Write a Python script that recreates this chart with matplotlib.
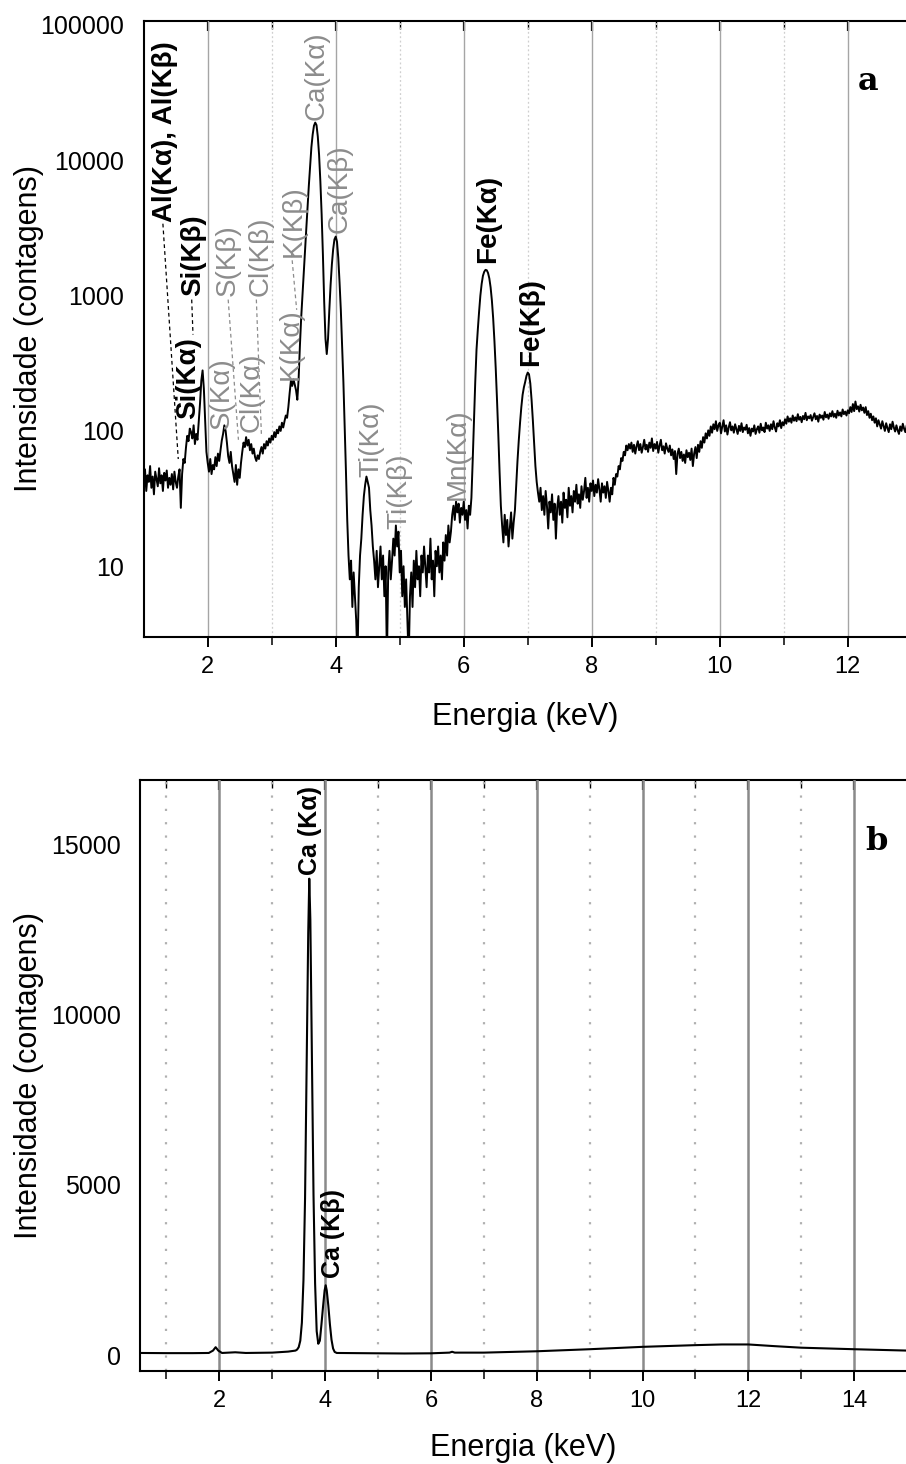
import numpy as np
import matplotlib
matplotlib.use('Agg')
import matplotlib.pyplot as plt
from matplotlib.ticker import FixedLocator, NullLocator, NullFormatter

plt.rcParams['font.family'] = ['Liberation Sans', 'DejaVu Sans']

# ---- espectro a (escala log), canais de 0.02 keV a partir de 1.0 keV ----
E0_A = 1.0
DE_A = 0.02
counts_a = [
    40, 52, 36, 47, 42, 55, 38, 46, 34, 50,             # 1.0
    44, 39, 53, 41, 47, 36, 49, 43, 51, 38,             # 1.2
    45, 40, 48, 37, 50, 42, 38, 46, 52, 27,             # 1.4
    48, 62, 58, 75, 92, 84, 104, 98, 88, 110,           # 1.6
    80, 95, 86, 118, 160, 235, 280, 205, 120, 70,       # 1.8
    58, 50, 62, 48, 56, 52, 64, 55, 68, 60,             # 2.0
    72, 85, 95, 110, 100, 82, 65, 58, 70, 55,           # 2.2
    48, 42, 56, 40, 52, 45, 58, 70, 82, 76,             # 2.4
    90, 78, 86, 72, 80, 68, 74, 64, 60, 66,             # 2.6
    62, 70, 76, 68, 80, 74, 84, 78, 88, 82,             # 2.8
    92, 86, 98, 90, 102, 96, 108, 100, 115, 106,        # 3.0
    118, 130, 125, 150, 190, 235, 215, 240, 220, 200,   # 3.2
    170, 240, 420, 680, 1000, 1500, 2200, 3100, 4500, 6500,          # 3.4
    9000, 12500, 15500, 18000, 19000, 18200, 15000, 11000, 7000, 4000,  # 3.6
    2000, 900, 480, 370, 480, 780, 1200, 1700, 2200, 2600,           # 3.8
    2730, 2500, 1900, 1250, 780, 420, 230, 110, 50, 22,              # 4.0
    12, 8, 11, 5, 9, 6, 4, 2, 7, 12,                    # 4.2
    16, 24, 33, 40, 46, 42, 38, 26, 20, 14,             # 4.4
    11, 8, 13, 7, 10, 14, 8, 12, 6, 10,                 # 4.6
    2, 9, 13, 8, 11, 16, 12, 20, 14, 18,                # 4.8
    9, 13, 6, 10, 5, 8, 4, 2, 6, 9,                     # 5.0
    5, 11, 7, 13, 8, 10, 6, 12, 9, 14,                  # 5.2
    10, 7, 12, 9, 16, 8, 11, 6, 13, 10,                 # 5.4
    14, 9, 12, 8, 15, 11, 17, 12, 20, 15,               # 5.6
    18, 24, 28, 22, 30, 25, 29, 21, 27, 24,             # 5.8
    30, 22, 26, 19, 28, 24, 32, 60, 120, 230,           # 6.0
    400, 560, 760, 1000, 1220, 1400, 1500, 1550, 1540, 1470,  # 6.2
    1340, 1150, 920, 680, 460, 290, 170, 95, 50, 28,    # 6.4
    20, 15, 24, 17, 22, 14, 19, 25, 16, 21,             # 6.6
    26, 40, 60, 85, 115, 150, 185, 210, 230, 255,       # 6.8
    270, 262, 225, 170, 120, 80, 55, 42, 35, 30,        # 7.0
    38, 26, 33, 24, 36, 28, 19, 30, 25, 34,             # 7.2
    22, 29, 16, 27, 33, 24, 30, 21, 35, 27,             # 7.4
    31, 23, 38, 28, 33, 25, 36, 30, 40, 29,             # 7.6
    34, 27, 39, 31, 36, 45, 32, 38, 30, 41,             # 7.8
    36, 43, 33, 40, 35, 44, 37, 30, 41, 35,             # 8.0
    39, 32, 42, 36, 30, 38, 34, 45, 40, 48,             # 8.2
    46, 55, 52, 63, 60, 70, 66, 78, 72, 80,             # 8.4
    74, 82, 70, 79, 68, 77, 84, 72, 80, 69,             # 8.6
    76, 86, 73, 79, 70, 82, 75, 88, 71, 80,             # 8.8
    74, 83, 69, 78, 86, 72, 77, 68, 81, 74,             # 9.0
    70, 78, 66, 73, 62, 71, 48, 68, 74, 63,             # 9.2
    70, 60, 67, 58, 72, 64, 69, 61, 74, 55,             # 9.4
    68, 76, 63, 79, 70, 84, 75, 90, 82, 96,             # 9.6
    88, 101, 92, 108, 97, 112, 103, 118, 100, 110,      # 9.8
    115, 96, 108, 120, 99, 110, 94, 106, 116, 101,      # 10.0
    108, 97, 112, 103, 95, 109, 100, 114, 98, 106,      # 10.2
    102, 111, 96, 105, 92, 104, 99, 110, 95, 103,       # 10.4
    108, 97, 113, 101, 106, 98, 115, 104, 110, 100,     # 10.6
    112, 103, 118, 106, 99, 114, 108, 120, 105, 116,    # 10.8
    110, 122, 113, 128, 117, 124, 115, 130, 119, 126,   # 11.0
    118, 133, 121, 127, 116, 129, 122, 136, 120, 128,   # 11.2
    124, 131, 119, 127, 135, 122, 129, 117, 132, 125,   # 11.4
    130, 121, 138, 126, 132, 123, 135, 128, 140, 127,   # 11.6
    134, 125, 141, 130, 137, 128, 144, 133, 139, 130,   # 11.8
    142, 135, 150, 138, 158, 140, 165, 145, 152, 139,   # 12.0
    156, 142, 149, 136, 150, 131, 140, 125, 134, 120,   # 12.2
    128, 115, 124, 108, 120, 112, 104, 118, 109, 100,   # 12.4
    114, 105, 98, 112, 103, 117, 106, 99, 110, 101,     # 12.6
    95, 108, 100, 113, 104, 98, 109,                    # 12.8
]
energy_a = E0_A + DE_A * np.arange(len(counts_a))

# ---- espectro b (escala linear) ----
energy_b = [0.5, 1.0, 1.5, 1.8, 1.88, 1.93, 1.98, 2.05, 2.3, 2.5, 3.0, 3.3, 3.44,
            3.47, 3.50, 3.53, 3.56, 3.59, 3.62, 3.65, 3.68, 3.70, 3.72, 3.75,
            3.78, 3.81, 3.84, 3.87, 3.90, 3.93, 3.96, 3.99, 4.01, 4.03, 4.06,
            4.09, 4.12, 4.15, 4.18, 4.22, 4.6, 5.0, 5.5, 6.0, 6.35, 6.4, 6.45,
            7.0, 8.0, 9.0, 10.0, 11.0, 11.5, 12.0, 12.5, 13.0, 14.0, 15.0]
counts_b = [60, 55, 55, 60, 130, 230, 130, 60, 80, 60, 70, 100, 130,
            160, 230, 420, 950, 2200, 4600, 8500, 12400, 14000, 12800, 8700,
            4700, 2100, 700, 330, 420, 900, 1420, 1900, 2050, 1900, 1450,
            900, 450, 190, 90, 60, 55, 50, 45, 50, 70, 95, 70,
            70, 110, 170, 240, 290, 310, 310, 260, 215, 170, 130]

# ---- rotulos dos picos ----
GRAY = '#8c8c8c'
lab_a_text = ['Al(Kα), Al(Kβ)', 'Si(Kβ)', 'Si(Kα)', 'S(Kβ)', 'S(Kα)', 'Cl(Kβ)',
              'Cl(Kα)', 'K(Kβ)', 'K(Kα)', 'Ca(Kα)', 'Ca(Kβ)', 'Ti(Kα)',
              'Ti(Kβ)', 'Mn(Kα)', 'Fe(Kα)', 'Fe(Kβ)']
lab_a_x = [1.33, 1.77, 1.70, 2.32, 2.22, 2.82, 2.69, 3.34, 3.29, 3.70, 4.06,
           4.55, 5.00, 5.90, 6.38, 7.06]
lab_a_y = [3500, 985, 122, 985, 103, 985, 99, 1940, 239, 19900, 2920,
           46, 19, 31, 1750, 300]
lab_a_bold = [True, True, True, False, False, False, False, False, False,
              False, False, False, False, False, True, True]

# linhas tracejadas de ligacao
lead_x0 = [1.30, 1.75, 2.32, 2.76, 3.31]
lead_y0 = [3400, 935, 935, 935, 2050]
lead_x1 = [1.54, 1.77, 2.48, 2.84, 3.39]
lead_y1 = [62, 515, 86, 91, 785]
lead_bold = [True, True, False, False, False]

lab_b_text = ['Ca (Kα)', 'Ca (Kβ)']
lab_b_x = [3.71, 4.15]
lab_b_y = [14100, 2270]

yticks_a = [10, 100, 1000, 10000, 100000]
yticks_b = [0, 5000, 10000, 15000]

W, H = 906, 1464
fig = plt.figure(figsize=(W / 100, H / 100), dpi=100)
ax1 = fig.add_axes([143.7 / W, (H - 637) / H, (W - 143.7) / W, 616 / H])
ax2 = fig.add_axes([140 / W, (H - 1371) / H, (W - 140) / W, 591 / H])


def style_axes(ax, xmin, xmax, major, minor, grid_major, grid_minor):
    ax.set_xlim(xmin, xmax)
    ax.set_xticks(major)
    ax.set_xticks(minor, minor=True)
    ax.tick_params(axis='x', which='major', direction='out', length=7,
                   width=1.4, labelsize=17, pad=7)
    ax.tick_params(axis='x', which='minor', direction='out', length=6, width=1.1)
    ax.tick_params(axis='y', length=0, labelsize=18, pad=14)
    ax.grid(True, which='major', axis='x', **grid_major)
    ax.grid(True, which='minor', axis='x', **grid_minor)
    ax.set_axisbelow(True)
    for s in ['left', 'bottom']:
        ax.spines[s].set_linewidth(1.5)
    ax.spines['right'].set_visible(False)
    ax.spines['top'].set_visible(False)
    top = ax.secondary_xaxis('top')
    top.set_xticks(major)
    top.set_xticks(minor, minor=True)
    top.xaxis.set_major_formatter(NullFormatter())
    top.tick_params(which='major', direction='in', length=7, width=1.6)
    top.tick_params(which='minor', direction='in', length=6, width=1.0)
    top.spines['top'].set_linewidth(1.5)
    ax.set_xlabel('Energia (keV)', fontsize=22)
    ax.set_ylabel('Intensidade (contagens)', fontsize=22)


# ---- painel a ----
ax1.plot(energy_a, counts_a, color='black', lw=1.4)
ax1.set_yscale('log')
ax1.set_ylim(3.0, 1.07e5)
ax1.yaxis.set_major_locator(FixedLocator(yticks_a))
ax1.yaxis.set_minor_locator(NullLocator())
ax1.set_yticklabels([str(v) for v in yticks_a])
style_axes(ax1, 1.0, 12.91, [2, 4, 6, 8, 10, 12], [3, 5, 7, 9, 11],
           dict(color='#a5a5a5', lw=1.0, ls='-'),
           dict(color='#cfcfcf', lw=0.9, ls=(0, (1.5, 2))))
ax1.yaxis.set_label_coords(-0.131, 0.5)
ax1.xaxis.set_label_coords(0.5, -0.105)

for t, x, y, b in zip(lab_a_text, lab_a_x, lab_a_y, lab_a_bold):
    ax1.text(x, y, t, rotation=90, ha='center', va='bottom', fontsize=20,
             color='black' if b else GRAY, fontweight='bold' if b else 'normal')
for x0, y0, x1, y1, b in zip(lead_x0, lead_y0, lead_x1, lead_y1, lead_bold):
    ax1.plot([x0, x1], [y0, y1], color='black' if b else GRAY, lw=0.9,
             ls=(0, (3, 2.5)))

fig.text(868 / W, 1 - 81 / H, 'a', fontsize=23, fontweight='bold',
         family='DejaVu Serif', ha='center', va='center')

# ---- painel b ----
ax2.plot(energy_b, counts_b, color='black', lw=1.5)
ax2.set_ylim(-470, 16900)
ax2.yaxis.set_major_locator(FixedLocator(yticks_b))
ax2.set_yticklabels([str(v) for v in yticks_b])
style_axes(ax2, 0.5, 14.98, [2, 4, 6, 8, 10, 12, 14], [1, 3, 5, 7, 9, 11, 13],
           dict(color='#8a8a8a', lw=1.8, ls='-'),
           dict(color='#b0b0b0', lw=1.6, ls=(0, (1, 5))))
ax2.yaxis.set_label_coords(-0.125, 0.5)
ax2.xaxis.set_label_coords(0.5, -0.105)

for t, x, y in zip(lab_b_text, lab_b_x, lab_b_y):
    ax2.text(x, y, t, rotation=90, ha='center', va='bottom', fontsize=18,
             fontweight='bold', color='black')

fig.text(876 / W, 1 - 842 / H, 'b', fontsize=23, fontweight='bold',
         family='DejaVu Serif', ha='center', va='center')

fig.savefig('out.png', dpi=100)
